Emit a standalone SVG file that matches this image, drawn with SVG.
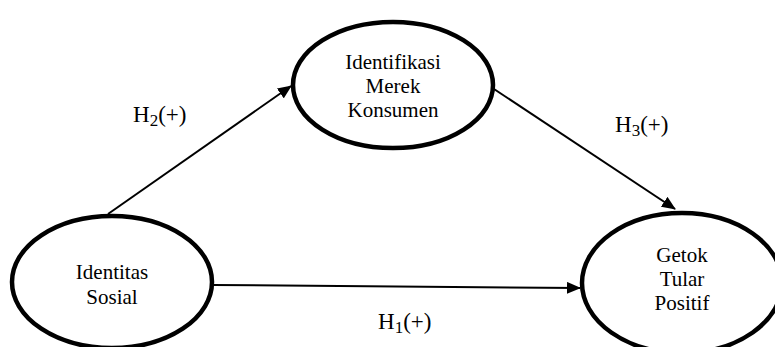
<svg xmlns="http://www.w3.org/2000/svg" width="775" height="347" viewBox="0 0 775 347">
<style>
.node ellipse{fill:#fff;stroke:#000;stroke-width:4.5}
.node text{font-family:"Liberation Serif","Times New Roman",serif;font-size:21px;text-anchor:middle;fill:#000}
.edge{stroke:#000;stroke-width:2;fill:none;marker-end:url(#ah)}
.lbl{font-family:"Liberation Serif","Times New Roman",serif;font-size:23px;fill:#000}
.sub{font-size:17px}
</style>
<defs>
<marker id="ah" viewBox="0 0 14 12" refX="13" refY="6" markerWidth="14" markerHeight="12" markerUnits="userSpaceOnUse" orient="auto">
<path d="M0,0 L14,6 L0,12 Z" fill="#000"/>
</marker>
</defs>
<rect width="775" height="347" fill="#fff"/>
<g id="connectors">
<line class="edge" x1="108" y1="214" x2="291" y2="86"/>
<line class="edge" x1="494" y1="89" x2="675" y2="209"/>
<line class="edge" x1="213" y1="285" x2="580" y2="288"/>
</g>
<g id="node-identitas" class="node">
<ellipse cx="112" cy="282" rx="100" ry="66"/>
<text x="112" y="279">Identitas</text>
<text x="112" y="304">Sosial</text>
</g>
<g id="node-identifikasi" class="node">
<ellipse cx="393" cy="85" rx="100" ry="63"/>
<text x="393" y="69">Identifikasi</text>
<text x="393" y="93">Merek</text>
<text x="393" y="117">Konsumen</text>
</g>
<g id="node-getok" class="node">
<ellipse cx="682" cy="283" rx="100" ry="70"/>
<text x="682" y="262">Getok</text>
<text x="682" y="286">Tular</text>
<text x="682" y="310">Positif</text>
</g>
<g id="labels">
<text class="lbl" x="133" y="122">H<tspan class="sub" dy="4">2</tspan><tspan dy="-4">(+)</tspan></text>
<text class="lbl" x="615" y="132">H<tspan class="sub" dy="4">3</tspan><tspan dy="-4">(+)</tspan></text>
<text class="lbl" x="378" y="329">H<tspan class="sub" dy="4">1</tspan><tspan dy="-4">(+)</tspan></text>
</g>
</svg>
